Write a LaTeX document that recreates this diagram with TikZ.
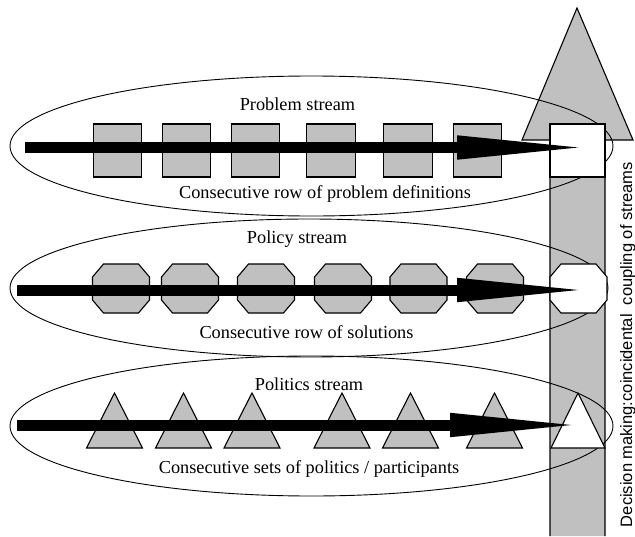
\documentclass[tikz,border=0pt]{standalone}
\usepackage{fontspec}
\setmainfont{Liberation Serif}
\newfontfamily\labelsans{Liberation Sans}
\usetikzlibrary{arrows.meta}
\definecolor{shade}{HTML}{C0C0C0}

% octagon and triangle outlines drawn around a named coordinate
\newcommand\octagonat[2]{\draw[#1, shift={(#2)}]
  (-17.5,-24.5) -- (17.5,-24.5) -- (28.5,-11.5) -- (28.5,11.5) --
  (17.5,24.5) -- (-17.5,24.5) -- (-28.5,11.5) -- (-28.5,-11.5) -- cycle;}
\newcommand\triangleat[3]{\draw[#1, shift={(#2)}]
  (-#3,27.5) -- (#3,27.5) -- (0,-27.5) -- cycle;}

\begin{document}
\begin{tikzpicture}[x=1pt,y=-1pt,
  stream/.style={draw=black, line width=0.9pt},
  item/.style={draw=black, line width=1.1pt, fill=shade},
  coupled/.style={draw=black, line width=1.1pt, fill=white},
  sqbox/.style={rectangle, inner sep=0pt, minimum width=48.5pt, minimum height=53pt},
  flow/.style={line width=11pt, -{Triangle[length=140pt,width=21pt]}},
  caption/.style={font=\fontsize{18.3}{20}\selectfont, anchor=base, inner sep=0pt},
  sidecaption/.style={font=\labelsans\fontsize{16.5}{18}\selectfont, anchor=base,
    inner sep=0pt, rotate=90},
]
\useasboundingbox (0,0) rectangle (635,536);

% decision-making arrow pointing upwards
\draw[item] (550,536) -- (550,140) -- (522,140) -- (577,8) -- (633,140)
  -- (605,140) -- (605,536);

% the three streams
\draw[stream] (311.5,146) ellipse [x radius=301.5pt, y radius=70pt];
\draw[stream] (309,288) ellipse [x radius=299pt, y radius=69pt];
\draw[stream] (311.5,426) ellipse [x radius=301.5pt, y radius=70pt];

% problem definitions
\foreach \n/\x in {1/117.5, 2/186.5, 3/255.5, 4/331, 5/408, 6/477.5}
  \node[sqbox, item] (sq\n) at (\x,150.5) {};
\node[sqbox, coupled, minimum width=55pt] (sq7) at (577.5,150.5) {};

% solutions
\foreach \n/\x in {1/121, 2/190, 3/266, 4/343, 5/418.5, 6/495}{
  \coordinate (oc\n) at (\x,288.5);
  \octagonat{item}{oc\n}
}
\coordinate (oc7) at (578.5,288.5);
\octagonat{coupled}{oc7}

% politics / participants
\foreach \n/\x in {1/114.5, 2/183.5, 3/252, 4/342, 5/410.5, 6/494.5}{
  \coordinate (tr\n) at (\x,420.5);
  \triangleat{item}{tr\n}{28}
}
\coordinate (tr7) at (578,420.5);
\triangleat{coupled}{tr7}{27}

% flow arrows through each stream
\coordinate (pa) at (25,147.5);  \coordinate (pb) at (597,147.5);
\coordinate (sa) at (17,290);    \coordinate (sb) at (597,290);
\coordinate (ta) at (17,425);    \coordinate (tb) at (590,425);
\draw[flow] (pa) -- (pb);
\draw[flow] (sa) -- (sb);
\draw[flow] (ta) -- (tb);

% labels
\node[caption] (l1) at (297.5,110) {Problem stream};
\node[caption] (l2) at (325,198) {Consecutive row of problem definitions};
\node[caption] (l3) at (297,243) {Policy stream};
\node[caption] (l4) at (306.5,338) {Consecutive row of solutions};
\node[caption] (l5) at (309,390) {Politics stream};
\node[caption] (l6) at (309,473) {Consecutive sets of politics / participants};
\node[sidecaption] (l7) at (632,344.5)
  {Decision making:coincidental\ \ coupling of streams};
\end{tikzpicture}
\end{document}
